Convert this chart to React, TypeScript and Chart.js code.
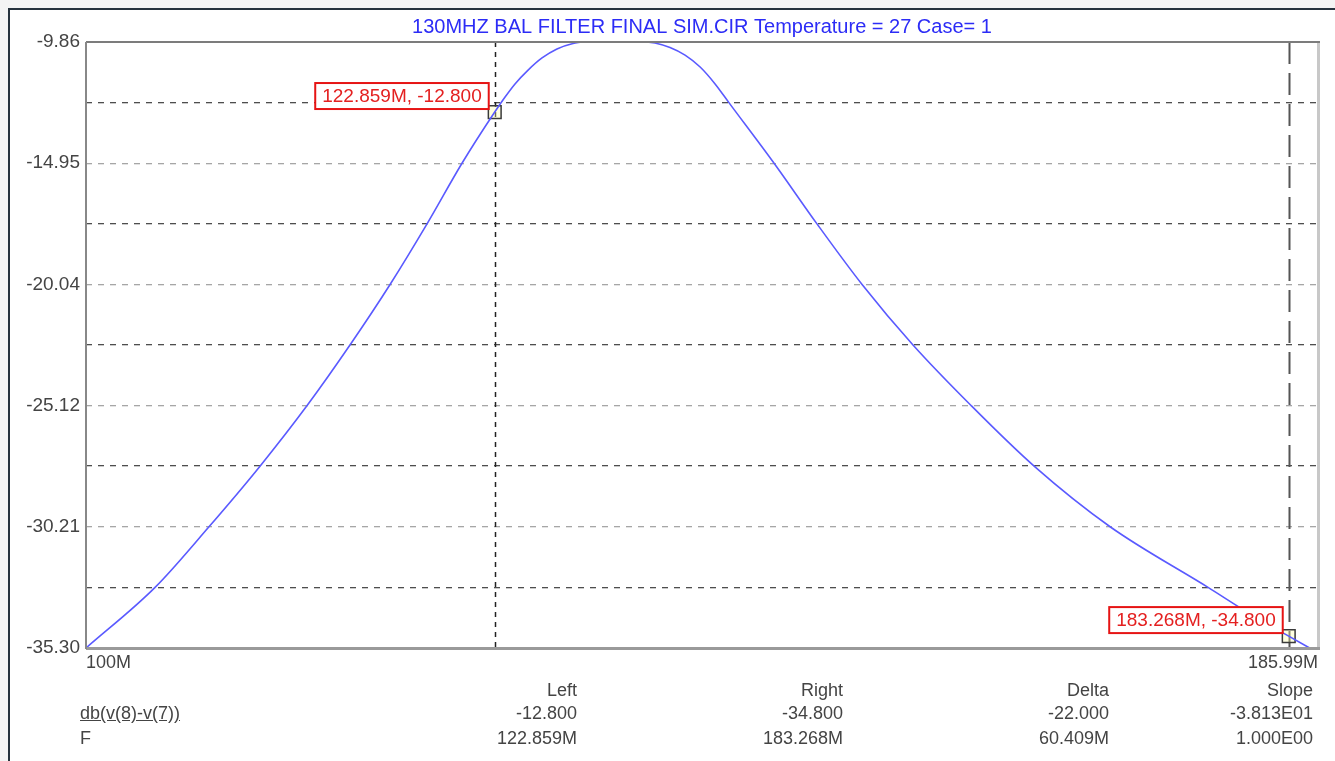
import React, { useEffect, useRef } from 'react';
import { Chart, registerables } from 'chart.js';

Chart.register(...registerables);

const titleText = '130MHZ BAL FILTER FINAL SIM.CIR Temperature = 27 Case= 1';

// Frequency (MHz) and response (dB)
const freqMHz = [
  100, 103.54, 106.39, 109.16, 111.78, 114.22, 116.55, 118.74, 120.85, 122.859,
  123.5, 124.12, 124.94, 125.82, 126.77, 127.8, 128.9, 130.73, 132.19, 133.19,
  134.2, 135.22, 136.25, 137.28, 138.24, 141.42, 144.51, 147.83, 151.67, 156.17,
  161.21, 167.5, 175.97, 179.74, 183.268, 185.99,
];
const gainDb = [
  -35.3, -32.755, -30.21, -27.665, -25.12, -22.58, -20.04, -17.495, -14.95, -12.8,
  -12.17, -11.62, -11.04, -10.53, -10.15, -9.92, -9.82, -9.7, -9.82, -9.9,
  -10.09, -10.41, -10.91, -11.62, -12.405, -14.95, -17.495, -20.04, -22.58, -25.12,
  -27.665, -30.21, -32.755, -33.87, -34.8, -35.5,
];

const xTickValues = [100, 185.99];
const xTickLabels = ['100M', '185.99M'];
const yTickValues = [-35.3, -30.21, -25.12, -20.04, -14.95, -9.86];
const yTickLabels = ['-35.30', '-30.21', '-25.12', '-20.04', '-14.95', '-9.86'];

const cursorFreq = [122.859, 183.268];
const cursorDb = [-12.8, -34.8];

const footerHeaders = ['Left', 'Right', 'Delta', 'Slope'];
const footerRowNames = ['db(v(8)-v(7))', 'F'];
const footerRow1 = ['-12.800', '-34.800', '-22.000', '-3.813E01'];
const footerRow2 = ['122.859M', '183.268M', '60.409M', '1.000E00'];

const FONT = '"Liberation Sans", Arial, sans-serif';
const TEXT = '#444';

export default function App() {
  const canvasRef = useRef<HTMLCanvasElement>(null);

  useEffect(() => {
    document.documentElement.style.overflow = 'hidden';
    document.documentElement.style.background = '#f4f4f4';
    document.body.style.background = '#f4f4f4';
    const canvas = canvasRef.current;
    if (!canvas) return;

    const yTicksAll: number[] = [];
    for (let i = 0; i < yTickValues.length; i++) {
      yTicksAll.push(yTickValues[i]);
      if (i < yTickValues.length - 1) yTicksAll.push((yTickValues[i] + yTickValues[i + 1]) / 2);
    }

    const overlay = {
      id: 'overlay',
      beforeDatasetsDraw(chart: any) {
        const { ctx, chartArea: a, scales } = chart;
        const xs = scales.x;
        ctx.save();
        cursorFreq.forEach((f, i) => {
          const px = Math.round(xs.getPixelForValue(f)) + 0.5;
          ctx.beginPath();
          if (i === 0) {
            ctx.strokeStyle = '#222';
            ctx.lineWidth = 1.5;
            ctx.setLineDash([5, 5]);
          } else {
            ctx.strokeStyle = '#555';
            ctx.lineWidth = 2;
            ctx.setLineDash([22, 9]);
          }
          ctx.moveTo(px, a.top);
          ctx.lineTo(px, a.bottom);
          ctx.stroke();
        });
        ctx.restore();
      },
      afterDatasetsDraw(chart: any) {
        const { ctx, chartArea: a, scales } = chart;
        const xs = scales.x;
        const ys = scales.y;
        ctx.save();
        ctx.setLineDash([]);
        // frame
        ctx.strokeStyle = '#c8c8c8';
        ctx.lineWidth = 3;
        ctx.beginPath();
        ctx.moveTo(a.right + 0.5, a.top);
        ctx.lineTo(a.right + 0.5, a.bottom + 1);
        ctx.stroke();
        ctx.strokeStyle = '#9a9a9a';
        ctx.beginPath();
        ctx.moveTo(a.left, a.bottom + 0.5);
        ctx.lineTo(a.right + 2, a.bottom + 0.5);
        ctx.stroke();
        ctx.strokeStyle = '#7c7c7c';
        ctx.lineWidth = 2;
        ctx.beginPath();
        ctx.moveTo(a.left, a.top);
        ctx.lineTo(a.right + 2, a.top);
        ctx.stroke();
        ctx.strokeStyle = '#888';
        ctx.beginPath();
        ctx.moveTo(a.left, a.top);
        ctx.lineTo(a.left, a.bottom + 1);
        ctx.stroke();
        // cursor labels
        ctx.font = '19px ' + FONT;
        ctx.textBaseline = 'middle';
        ctx.textAlign = 'left';
        cursorFreq.forEach((f, i) => {
          const px = xs.getPixelForValue(f);
          const py = ys.getPixelForValue(cursorDb[i]);
          const txt = `${f.toFixed(3)}M, ${cursorDb[i].toFixed(3)}`;
          const w = ctx.measureText(txt).width + 14;
          const h = 26;
          const right = px - 6;
          const bottom = py - 3;
          ctx.fillStyle = '#fff';
          ctx.fillRect(right - w, bottom - h, w, h);
          ctx.strokeStyle = '#e61414';
          ctx.lineWidth = 2;
          ctx.strokeRect(right - w, bottom - h, w, h);
          ctx.fillStyle = '#e42020';
          ctx.fillText(txt, right - w + 7, bottom - h / 2 + 1);
        });
        ctx.restore();
      },
    };

    const chart = new Chart(canvas, {
      type: 'line',
      data: {
        datasets: [
          {
            label: 'db(v(8)-v(7))',
            data: freqMHz.map((f, i) => ({ x: f, y: gainDb[i] })),
            borderColor: '#5a5aff',
            borderWidth: 1.6,
            pointRadius: 0,
            cubicInterpolationMode: 'monotone',
            fill: false,
          },
          {
            label: 'cursors',
            data: cursorFreq.map((f, i) => ({ x: f, y: cursorDb[i] })),
            showLine: false,
            pointStyle: 'rect',
            pointRadius: 9,
            pointBorderColor: '#3a3a3a',
            pointBorderWidth: 1.5,
            pointBackgroundColor: 'rgba(255,255,170,0.35)',
            clip: false as any,
          },
        ],
      },
      options: {
        animation: false,
        responsive: false,
        events: [],
        layout: { padding: { left: 0, top: 0, right: 17, bottom: 0 } },
        plugins: {
          legend: { display: false },
          tooltip: { enabled: false },
          title: {
            display: true,
            text: titleText,
            fullSize: false,
            color: '#2c2cf6',
            font: { family: FONT, size: 20, weight: 'normal', lineHeight: 1.2 },
            padding: { top: 5, bottom: 3 },
          },
        },
        scales: {
          x: {
            type: 'logarithmic',
            min: 100,
            max: 185.99,
            afterBuildTicks: (s: any) => {
              s.ticks = xTickValues.map((v) => ({ value: v }));
            },
            afterFit: (s: any) => {
              s.height = 113;
            },
            grid: { display: false, drawTicks: false },
            border: { display: false },
            ticks: {
              autoSkip: false,
              maxRotation: 0,
              minRotation: 0,
              align: 'inner',
              padding: 4,
              color: TEXT,
              font: { family: FONT, size: 18 },
              callback: (_v: any, i: number) => xTickLabels[i],
            },
          },
          y: {
            type: 'linear',
            min: yTickValues[0],
            max: yTickValues[yTickValues.length - 1],
            afterBuildTicks: (s: any) => {
              s.ticks = yTicksAll.map((v) => ({ value: v }));
            },
            afterFit: (s: any) => {
              s.width = 76;
            },
            grid: {
              drawTicks: false,
              lineWidth: 1.3,
              color: (c: any) => (c.index % 2 === 1 ? '#4e4e4e' : '#a6a6a6'),
            },
            border: { display: false, dash: [6, 6] },
            ticks: {
              autoSkip: false,
              padding: 6,
              color: TEXT,
              font: { family: FONT, size: 19 },
              callback: (_v: any, i: number) => (i % 2 === 0 ? yTickLabels[i / 2] : ''),
            },
          },
        },
      } as any,
      plugins: [overlay],
    });

    return () => chart.destroy();
  }, []);

  const colRight = [567, 833, 1099, 1303];
  const rowTop = [670, 693, 718];
  const cell = (text: string, top: number, right: number, key: string) => (
    <div
      key={key}
      style={{
        position: 'absolute',
        top,
        right: 1325 - right,
        lineHeight: '20px',
        fontSize: 18,
        fontFamily: FONT,
        color: TEXT,
        whiteSpace: 'nowrap',
        textAlign: 'right',
      }}
    >
      {text}
    </div>
  );

  return (
    <div
      style={{
        position: 'fixed',
        left: 8,
        top: 8,
        width: 1327,
        height: 753,
        boxSizing: 'border-box',
        borderTop: '2px solid #26323d',
        borderLeft: '2px solid #26323d',
        background: '#fff',
        overflow: 'hidden',
      }}
    >
      <canvas
        ref={canvasRef}
        width={1325}
        height={751}
        style={{ position: 'absolute', left: 0, top: 0, width: 1325, height: 751 }}
      />
      {footerHeaders.map((t, i) => cell(t, rowTop[0], colRight[i], 'h' + i))}
      {footerRow1.map((t, i) => cell(t, rowTop[1], colRight[i], 'a' + i))}
      {footerRow2.map((t, i) => cell(t, rowTop[2], colRight[i], 'b' + i))}
      {footerRowNames.map((t, i) => (
        <div
          key={'n' + i}
          style={{
            position: 'absolute',
            top: rowTop[i + 1],
            left: 70,
            lineHeight: '20px',
            fontSize: 18,
            fontFamily: FONT,
            color: TEXT,
            textDecoration: i === 0 ? 'underline' : 'none',
            whiteSpace: 'nowrap',
          }}
        >
          {t}
        </div>
      ))}
    </div>
  );
}
